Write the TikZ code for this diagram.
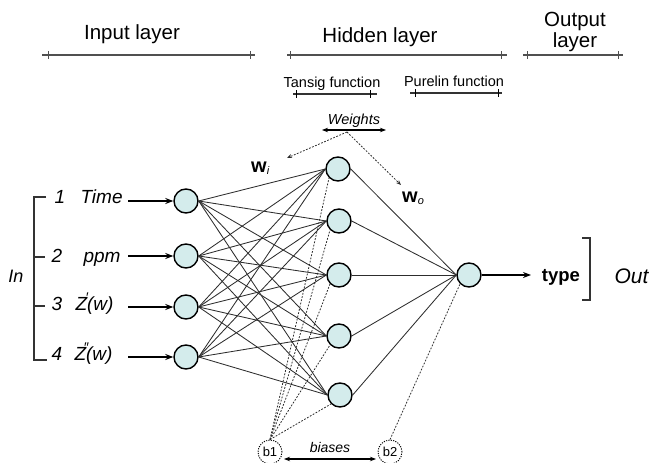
\documentclass[tikz,border=0pt]{standalone}
\usepackage{fontspec}
\setmainfont{Liberation Sans}
\usetikzlibrary{arrows.meta}
\definecolor{nodefill}{RGB}{212,236,236}
\definecolor{linegray}{RGB}{45,45,45}
\definecolor{bargray}{RGB}{80,80,80}
\newcommand{\fsz}[1]{\fontsize{#1}{#1}\selectfont}
\begin{document}
\begin{tikzpicture}[x=1pt,y=-1pt,
  neuron/.style={circle,draw=black,line width=1.4pt,fill=nodefill,minimum size=24pt,inner sep=0pt},
  biasnode/.style={circle,draw=black,line width=0.9pt,dash pattern=on 1.2pt off 1.2pt,minimum size=24pt,inner sep=0pt,font=\fsz{13}},
  conn/.style={draw=linegray,line width=0.85pt},
  dconn/.style={draw=linegray,line width=0.8pt,dash pattern=on 1.8pt off 1.5pt},
  bar/.style={draw=bargray,line width=1.6pt},
  tick/.style={draw=bargray,line width=0.8pt},
  sbar/.style={draw=black!80,line width=1.2pt},
  hdr/.style={font=\fsz{20.5},anchor=base},
  sub/.style={font=\fsz{14.5},anchor=base},
  lab/.style={font=\fsz{19}\itshape,anchor=base},
  primemark/.style={font=\fsz{14},anchor=base,inner sep=0pt},
  arr/.style={draw=black,line width=1.4pt,-{Stealth[length=8pt,width=6pt]}},
]
\useasboundingbox (0,0) rectangle (649,463);

% header
\node[hdr] (inl) at (132,39) {Input layer};
\node[hdr] (hil) at (380,42) {Hidden layer};
\node[hdr] (outl1) at (575,27) {Output};
\node[hdr] (outl2) at (575,48) {layer};
\draw[bar] (42,55) -- (255,55);
\draw[tick] (48,51) -- (48,59) (250,51) -- (250,59);
\draw[bar] (287,55) -- (507,55);
\draw[tick] (290,51) -- (290,59) (501,51) -- (501,59);
\draw[bar] (523,55) -- (623,55);
\draw[tick] (527,51) -- (527,59) (618,51) -- (618,59);

\node[sub] (tan) at (332,87) {Tansig function};
\node[sub] (pur) at (454,86) {Purelin function};
\draw[sbar] (293,94) -- (377,94);
\draw[tick,draw=black] (296,90) -- (296,98) (370,90) -- (370,98);
\draw[sbar] (410,93) -- (502,93);
\draw[tick,draw=black] (415,89) -- (415,97) (498,89) -- (498,97);

% weights
\node[sub,font=\fsz{14.5}\itshape] (wts) at (354,124) {Weights};
\coordinate (wl) at (322,130);
\coordinate (wr) at (386,130);
\draw[line width=1.1pt,{Stealth[length=6pt,width=4.5pt]}-{Stealth[length=6pt,width=4.5pt]}] (wl) -- (wr);
\coordinate (wsrc) at (347,132);
\coordinate (wiend) at (287,158);
\coordinate (woend) at (401,185);
\draw[dconn,-{Stealth[length=5pt,width=4pt]}] (wsrc) -- (wiend);
\draw[dconn,-{Stealth[length=5pt,width=4pt]}] (wsrc) -- (woend);
\node[font=\fsz{20}\bfseries,anchor=base] (wi) at (259,172) {w\rlap{\raisebox{-2pt}{\fsz{11}\mdseries\itshape i}}};
\node[font=\fsz{20}\bfseries,anchor=base] (wo) at (410,202) {w\rlap{\raisebox{-2pt}{\fsz{11}\mdseries\itshape o}}};

% nodes
\node[neuron] (i1) at (186,201) {};
\node[neuron] (i2) at (186,256) {};
\node[neuron] (i3) at (186,307) {};
\node[neuron] (i4) at (186,357) {};
\node[neuron] (h1) at (338,169) {};
\node[neuron] (h2) at (339,221) {};
\node[neuron] (h3) at (339,275) {};
\node[neuron] (h4) at (339,336) {};
\node[neuron] (h5) at (340,395) {};
\node[neuron] (o) at (469,275) {};
\node[biasnode] (b1) at (270,452) {b1};
\node[biasnode] (b2) at (390,452) {b2};

% connections
\foreach \i in {1,...,4}{
  \foreach \h in {1,...,5}{
    \draw[conn] (i\i.east) -- (h\h.west);
  }
}
\foreach \h in {1,...,5}{
  \draw[conn] (h\h.east) -- (o.west);
  \draw[dconn] (b1.north) -- (h\h.south west);
}
\draw[dconn] (b2.north) -- (o.south west);

% biases label
\node[font=\fsz{14}\itshape,anchor=base] (bl) at (330,452) {biases};
\coordinate (bal) at (284,459);
\coordinate (bar) at (376,459);
\draw[line width=1.1pt,{Stealth[length=6pt,width=4.5pt]}-{Stealth[length=6pt,width=4.5pt]}] (bal) -- (bar);

% input labels
\node[lab] (n1) at (60,203) {1};
\node[lab,anchor=base west] (t1) at (77,203) {Time};
\node[lab] (n2) at (57,262) {2};
\node[lab,anchor=base west] (t2) at (80,262) {ppm};
\node[lab] (n3) at (57,310) {3};
\node[lab,anchor=base west] (t3) at (72,310) {Z(w)};
\node[primemark] (p3) at (87.5,302) {′};
\node[lab] (n4) at (57,360) {4};
\node[lab,anchor=base west] (t4) at (71,360) {Z(w)};
\node[primemark] (p4) at (86.5,352) {″};
\node[lab,font=\fsz{18}\itshape] (inn) at (16,282) {In};
\draw[line width=1.1pt,draw=black!80] (46,197) -- (34,197) -- (34,360) -- (47,360);
\draw[line width=1.1pt,draw=black!80] (34,257) -- (45,257) (34,306) -- (45,306);

\coordinate (s1) at (128,201);
\coordinate (s2) at (128,256);
\coordinate (s3) at (128,307);
\coordinate (s4) at (128,357);
\draw[arr] (s1) -- (i1);
\draw[arr] (s2) -- (i2);
\draw[arr] (s3) -- (i3);
\draw[arr] (s4) -- (i4);

% output
\coordinate (oe) at (531,275);
\draw[arr] (o) -- (oe);
\node[font=\fsz{18.5}\bfseries,anchor=base] (ty) at (561,281) {type};
\draw[line width=1.1pt,draw=black!80] (582,238) -- (590,238) -- (590,300) -- (582,300);
\node[font=\fsz{21}\itshape,anchor=base west] (ot) at (611,283) {Out};
\end{tikzpicture}
\end{document}
